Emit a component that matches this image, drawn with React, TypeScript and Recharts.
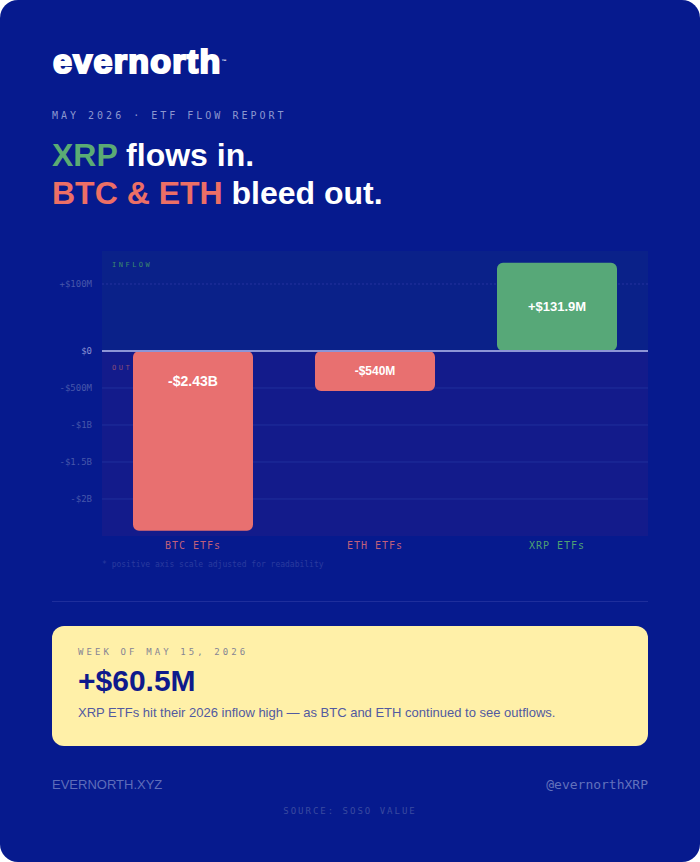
import { BarChart, Bar, Cell, XAxis, YAxis, CartesianGrid, ReferenceLine, LabelList } from 'recharts';

const categories = ['BTC ETFs', 'ETH ETFs', 'XRP ETFs'];
const flows = [-2430, -540, 131.9]; // $M, week of May 15 2026
const flowLabels = ['-$2.43B', '-$540M', '+$131.9M'];
const tickValues = [100, 0, -500, -1000, -1500, -2000];
const tickLabels = ['+$100M', '$0', '-$500M', '-$1B', '-$1.5B', '-$2B'];

// positive side is stretched so XRP is readable next to BTC
const POS_STRETCH = 9.05;
const toAxis = (v: number) => (v > 0 ? v * POS_STRETCH : v);

const C = {
  bg: '#061a8e',
  plotPos: '#0a2189',
  plotNeg: '#131b8b',
  grid: '#20309c',
  zero: '#8d95d6',
  red: '#e87070',
  green: '#57a878',
  redText: '#c0607a',
  greenText: '#4fa072',
  tick: '#4757aa',
  yellow: '#fff0a8',
};
const mono = '"DejaVu Sans Mono", "Liberation Mono", monospace';
const sans = '"Liberation Sans", Arial, sans-serif';

const chartData = categories.map((name, i) => ({
  name,
  value: toAxis(flows[i]),
  label: flowLabels[i],
}));
const ticks = tickValues.map(toAxis);
const Y_MIN = -2500;
const Y_MAX = 1351;

// band colours: each stripe starts at the top edge or a tick, going down
const stripeStarts = [Y_MAX, ...[...ticks].sort((a, b) => b - a)];
const stripeFill = stripeStarts.map((v) => (v > 0 ? C.plotPos : C.plotNeg));

function YTick({ x, y, payload }: any) {
  const i = ticks.indexOf(payload.value);
  const isZero = payload.value === 0;
  return (
    <text x={x - 2} y={y} textAnchor="end" dominantBaseline="central" fontFamily={mono} fontSize={9}
      fill={isZero ? '#8891d2' : C.tick}>
      {tickLabels[i]}
    </text>
  );
}

function XTick({ x, y, payload }: any) {
  const isUp = flows[categories.indexOf(payload.value)] > 0;
  return (
    <text x={x} y={y + 9} textAnchor="middle" dominantBaseline="central" fontFamily={mono} fontSize={10}
      letterSpacing={1} fill={isUp ? C.greenText : C.redText}>
      {payload.value}
    </text>
  );
}

function BarLabel({ x, y, width, height, value, index }: any) {
  const neg = flows[index] < 0;
  const top = Math.min(y, y + height);
  const h = Math.abs(height);
  const cy = neg ? top + Math.min(30, h / 2) : top + h / 2;
  const size = [14, 12, 13][index] ?? 13;
  return (
    <text x={x + width / 2} y={cy} textAnchor="middle" dominantBaseline="central" fontFamily={sans}
      fontWeight={700} fontSize={size} fill="#fff">
      {value}
    </text>
  );
}

export default function App() {
  return (
    <div style={{ position: 'fixed', left: 0, top: 0, background: '#fff', width: 700, height: 862 }}>
      <div style={{ position: 'relative', width: 700, height: 862, background: C.bg, borderRadius: 18, overflow: 'hidden', fontFamily: sans }}>
        <div style={{ position: 'absolute', left: 53, top: 41, color: '#fff', fontWeight: 900, fontSize: 34, letterSpacing: 1.3, lineHeight: '40px', WebkitTextStroke: '2.2px #fff' }}>
          evernorth<span style={{ fontSize: 5, verticalAlign: 'top', WebkitTextStroke: '0px' }}>™</span>
        </div>
        <div style={{ position: 'absolute', left: 52, top: 109, fontFamily: mono, fontSize: 10, letterSpacing: 3, color: '#8c97cf', lineHeight: '14px' }}>
          MAY 2026 · ETF FLOW REPORT
        </div>
        <div style={{ position: 'absolute', left: 52, top: 136, fontSize: 32, fontWeight: 700, color: '#fff', lineHeight: '38px' }}>
          <div><span style={{ color: '#5bab74' }}>XRP</span> flows in.</div>
          <div><span style={{ color: '#ec6f66' }}>BTC &amp; ETH</span> bleed out.</div>
        </div>

        <div style={{ position: 'absolute', left: 52, top: 251 }}>
          <BarChart width={596} height={315} data={chartData} margin={{ top: 0, right: 0, left: 0, bottom: 0 }} barCategoryGap={0}>
            <CartesianGrid vertical={false} stroke="none" horizontalValues={ticks} horizontalFill={stripeFill} fillOpacity={1} />
            <CartesianGrid vertical={false} stroke={C.grid} horizontalValues={ticks.filter((t) => t < 0)} />
            <CartesianGrid vertical={false} stroke="#24339e" strokeDasharray="2 2" horizontalValues={ticks.filter((t) => t > 0)} />
            <XAxis dataKey="name" axisLine={false} tickLine={false} tickSize={0} tickMargin={0} height={30} tick={<XTick />} interval={0} />
            <YAxis type="number" domain={[Y_MIN, Y_MAX]} ticks={ticks} axisLine={false} tickLine={false} width={50} tick={<YTick />} allowDataOverflow interval={0} />
            <Bar dataKey="value" barSize={120} radius={6} isAnimationActive={false}>
              {chartData.map((d, i) => (
                <Cell key={d.name} fill={flows[i] < 0 ? C.red : C.green} />
              ))}
              <LabelList dataKey="label" content={<BarLabel />} />
            </Bar>
            <ReferenceLine y={0} stroke={C.zero} strokeWidth={2} />
          </BarChart>
          <div style={{ position: 'absolute', left: 60, top: 10, fontFamily: mono, fontSize: 7, letterSpacing: 2.5, color: '#3d8a6c' }}>INFLOW</div>
          <div style={{ position: 'absolute', left: 60, top: 113, fontFamily: mono, fontSize: 7, letterSpacing: 2.5, color: '#8b4d78' }}>OUT</div>
          <div style={{ position: 'absolute', left: 50, top: 309, fontFamily: mono, fontSize: 8, color: '#2a3b9e', whiteSpace: 'nowrap' }}>
            * positive axis scale adjusted for readability
          </div>
        </div>

        <div style={{ position: 'absolute', left: 52, top: 601, width: 596, height: 1, background: '#1e2e9c' }} />

        <div style={{ position: 'absolute', left: 52, top: 626, width: 596, height: 120, background: C.yellow, borderRadius: 12 }}>
          <div style={{ position: 'absolute', left: 26, top: 21, fontFamily: mono, fontSize: 9, letterSpacing: 3.1, color: '#858494' }}>WEEK OF MAY 15, 2026</div>
          <div style={{ position: 'absolute', left: 26, top: 38, fontSize: 30, fontWeight: 700, color: '#0e1a8c' }}>+$60.5M</div>
          <div style={{ position: 'absolute', left: 26, top: 79, fontSize: 13, color: '#525aa0' }}>
            XRP ETFs hit their 2026 inflow high — as BTC and ETH continued to see outflows.
          </div>
        </div>

        <div style={{ position: 'absolute', left: 52, top: 777, fontSize: 13, color: '#5e6dba' }}>EVERNORTH.XYZ</div>
        <div style={{ position: 'absolute', right: 52, top: 777, fontSize: 13, fontFamily: mono, color: '#6271bc' }}>@evernorthXRP</div>
        <div style={{ position: 'absolute', left: 0, width: 700, top: 806, textAlign: 'center', fontSize: 9, letterSpacing: 2, fontFamily: mono, color: '#3a4aa0' }}>
          SOURCE: SOSO VALUE
        </div>
      </div>
    </div>
  );
}
